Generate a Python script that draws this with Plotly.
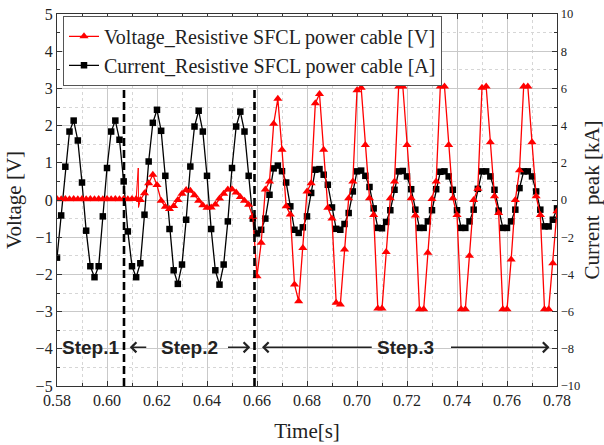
import numpy as np
import plotly.graph_objects as go

# Sampling of both records: 600 samples per second starting at 0.58 s
t_start = 0.58
sample_rate = 600.0

# Fault current through the cable [kA]
current_ka = [
    -3.10, -0.83, 1.79, 3.68, 4.27, 3.20, 0.94, -1.65, -3.56, -4.15,
    -3.56, -0.88, 1.72, 3.68, 4.27, 3.24, 1.00, -1.69, -3.56, -4.15,
    -3.40, -0.79, 2.07, 4.15, 4.85, 3.72, 1.30, -1.56, -3.78, -4.51,
    -3.47, -1.06, 1.80, 3.95, 4.80, 3.68, 1.30, -1.56, -3.78, -4.55,
    -3.47, -1.15, 1.72, 3.95, 4.75, 3.68, 1.30, -1.00, -1.80, -1.60,
    -1.00, 0.28, 1.70, 1.85, 1.55, 0.94, -0.34, -1.60, -1.77, -1.47,
    -0.88, 0.38, 1.63, 1.66, 1.36, 0.82, -0.40, -1.55, -1.60, -1.29,
    -0.70, 0.46, 1.54, 1.58, 1.30, 0.70, -0.45, -1.50, -1.52, -1.18,
    -0.55, 0.55, 1.54, 1.56, 1.27, 0.58, -0.52, -1.50, -1.50, -1.15,
    -0.55, 0.58, 1.52, 1.54, 1.27, 0.55, -0.55, -1.50, -1.50, -1.15,
    -0.52, 0.60, 1.54, 1.54, 1.27, 0.55, -0.57, -1.50, -1.50, -1.15,
    -0.52, 0.64, 1.54, 1.54, 1.27, 0.46, -0.52, -1.42, -1.42, -1.06,
    -0.45,
]

# Voltage across the resistive SFCL cable [V]
voltage_v = [
    0.03, 0.02, 0.03, 0.02, 0.03, 0.02, 0.03, 0.02, 0.03, 0.02,
    0.03, 0.02, 0.03, 0.02, 0.03, 0.02, 0.03, 0.02, 0.03, 0.03,
    0.00, 0.18, 0.45, 0.68, 0.40, -0.02, -0.18, -0.24, -0.16, 0.00,
    0.17, 0.27, 0.25, 0.13, -0.02, -0.14, -0.21, -0.20, -0.12, 0.04,
    0.17, 0.28, 0.29, 0.20, 0.08, -0.02, -0.13, -0.45, -2.05, -1.15,
    0.28, 0.50, 2.05, 2.72, 1.35, -0.17, -0.39, -2.27, -2.72, -1.29,
    0.23, 0.45, 2.60, 2.85, 1.35, -0.21, -0.50, -2.76, -2.81, -1.33,
    0.05, 0.50, 2.95, 3.02, 1.48, 0.05, -0.40, -2.92, -2.92, -1.40,
    0.05, 0.50, 3.05, 3.05, 1.48, 0.05, -0.42, -2.94, -2.94, -1.42,
    0.03, 0.50, 3.05, 3.05, 1.48, 0.05, -0.40, -2.94, -2.94, -1.50,
    0.00, 0.30, 3.02, 3.05, 1.55, 0.10, -0.35, -2.94, -2.94, -1.60,
    0.00, 0.80, 3.05, 3.05, 1.55, 0.10, -0.40, -2.94, -2.94, -1.70,
    -0.30,
]

# Short switching transient recorded at fault inception
spike_time = [0.6125, 0.6126]
spike_volt = [0.86, -0.20]

# Boundaries between the operating steps [s]
step_bounds = [0.6068, 0.6590]
step_names = ["Step.1", "Step.2", "Step.3"]

time_s = t_start + np.arange(len(current_ka)) / sample_rate

serif = "Liberation Serif"
ink = "#222222"

fig = go.Figure()

# current on the right-hand kA axis (base y axis, drawn underneath)
fig.add_trace(go.Scatter(
    x=time_s, y=current_ka, yaxis="y",
    mode="lines+markers",
    name="Current_Resistive SFCL power cable [A]",
    line=dict(color="black", width=1.3),
    marker=dict(symbol="square", size=6.5, color="black"),
    legendrank=2,
))

# transient spike drawn as a bare line between its neighbouring samples
k = int(np.searchsorted(time_s, spike_time[0]))
fig.add_trace(go.Scatter(
    x=[time_s[k - 1]] + spike_time + [time_s[k]],
    y=[voltage_v[k - 1]] + spike_volt + [voltage_v[k]],
    yaxis="y2", mode="lines", showlegend=False, hoverinfo="skip",
    line=dict(color="red", width=1.0),
))

# voltage on the left-hand V axis (overlaying axis, drawn on top)
fig.add_trace(go.Scatter(
    x=time_s, y=voltage_v, yaxis="y2",
    mode="lines+markers",
    name="Voltage_Resistive SFCL power cable [V]",
    line=dict(color="red", width=1.3),
    marker=dict(symbol="triangle-up", size=8, color="red"),
    legendrank=1,
))

# dashed step boundaries
for b in step_bounds:
    fig.add_shape(type="line", xref="x", yref="paper", x0=b, x1=b, y0=0, y1=1,
                  line=dict(color="black", width=2.6, dash="8px,4px"))

# step captions and arrows
label_y = -3.96
step_font = dict(family="Liberation Sans", size=19, color=ink)
x0, x1 = 0.58, 0.78
s1c = (x0 + step_bounds[0]) / 2 - 0.0002
s2c = (step_bounds[0] + step_bounds[1]) / 2 - 0.0001
s3c = (step_bounds[1] + x1) / 2
for txt, xc in zip(step_names, [s1c, s2c, s3c]):
    fig.add_annotation(x=xc, y=label_y, xref="x", yref="y2", text="<b>%s</b>" % txt,
                       showarrow=False, font=step_font, bgcolor="rgba(0,0,0,0)")

arrows = [
    (step_bounds[0] + 0.0023, s2c - 0.0165),
    (step_bounds[1] - 0.0017, s2c + 0.0150),
    (step_bounds[1] + 0.0030, s3c - 0.0130),
    (x1 - 0.0030, s3c + 0.0175),
]
for tip, tail in arrows:
    fig.add_annotation(x=tip, y=label_y, ax=tail, ay=label_y,
                       xref="x", yref="y2", axref="x", ayref="y2",
                       text="", showarrow=True, arrowhead=4, arrowsize=1.4,
                       arrowwidth=1.4, arrowcolor=ink)

axis_line = dict(showline=True, linecolor="#333333", linewidth=1.3)
grid_major = dict(showgrid=True, gridcolor="#c9c9c9", gridwidth=1)

fig.update_layout(
    width=604, height=445,
    margin=dict(l=57, r=47, t=14, b=59),
    paper_bgcolor="white", plot_bgcolor="white",
    font=dict(family=serif, color=ink),
    xaxis=dict(
        range=[0.58, 0.78], dtick=0.02, tick0=0.58, tickformat=".2f",
        ticks="inside", ticklen=5, tickcolor="#333333", mirror="ticks",
        tickfont=dict(family=serif, size=16, color=ink),
        title=dict(text="Time[s]", font=dict(family=serif, size=21, color=ink), standoff=14),
        minor=dict(dtick=0.01, ticks="inside", ticklen=3, tickcolor="#333333",
                   showgrid=True, gridcolor="#d6d6d6", griddash="dot"),
        zeroline=False, automargin=False,
        **axis_line, **grid_major,
    ),
    yaxis=dict(
        side="right", range=[-10, 10], dtick=2, tick0=-10,
        ticks="inside", ticklen=5, tickcolor="#333333",
        tickfont=dict(family=serif, size=12.5, color=ink),
        title=dict(text="Current  peak [kA]", font=dict(family=serif, size=21, color=ink),
                   standoff=6),
        minor=dict(dtick=1, ticks="inside", ticklen=3, tickcolor="#333333",
                   showgrid=True, gridcolor="#d6d6d6", griddash="dot"),
        zeroline=False, automargin=False,
        **axis_line, **grid_major,
    ),
    yaxis2=dict(
        side="left", overlaying="y", range=[-5, 5], dtick=1, tick0=-5,
        ticks="inside", ticklen=5, tickcolor="#333333",
        tickfont=dict(family=serif, size=16, color=ink),
        title=dict(text="Voltage [V]", font=dict(family=serif, size=21, color=ink),
                   standoff=8),
        minor=dict(dtick=0.5, ticks="inside", ticklen=3, tickcolor="#333333"),
        showgrid=False, zeroline=False, automargin=False,
        **axis_line,
    ),
    legend=dict(
        x=0.012, y=0.995, xanchor="left", yanchor="top",
        bgcolor="white", bordercolor="#555555", borderwidth=1,
        font=dict(family=serif, size=20, color=ink),
        tracegroupgap=0, itemwidth=30,
    ),
    showlegend=True,
)

fig.write_html("out.html")
